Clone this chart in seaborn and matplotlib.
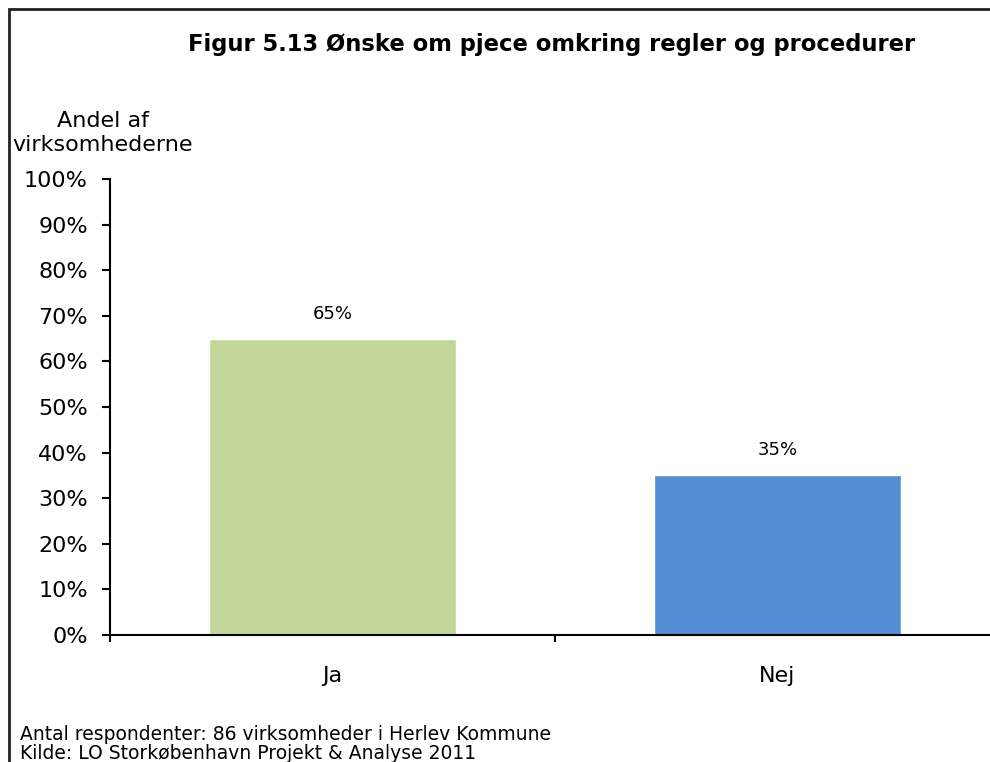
import matplotlib
matplotlib.use("Agg")
import matplotlib.pyplot as plt
import matplotlib.patches as mpatches
import seaborn as sns
import pandas as pd

categories = ["Ja", "Nej"]
shares = [65, 35]
bar_colors = ["#C4D79B", "#558ED5"]
y_ticks = list(range(0, 101, 10))
y_tick_labels = [f"{v}%" for v in y_ticks]

sns.set_theme(style="white")
plt.rcParams["font.family"] = ["DejaVu Sans"]
plt.rcParams["text.color"] = "black"

W, H = 990, 762
fig = plt.figure(figsize=(W / 100, H / 100), dpi=100)
ax = fig.add_axes([110 / W, (H - 635) / H, 890 / W, 456 / H])

df = pd.DataFrame({"kategori": categories, "andel": shares})
sns.barplot(data=df, x="kategori", y="andel", hue="kategori",
            palette=bar_colors, width=0.557, saturation=1,
            legend=False, ax=ax)

ax.set_xlim(-0.5, 1.5)
ax.set_ylim(0, 100)
ax.set_yticks(y_ticks)
ax.set_yticklabels(y_tick_labels, fontsize=16)
ax.set_xticks([-0.5, 0.5, 1.5], minor=False)
ax.set_xticklabels([])
ax.set_xticks([0, 1], minor=True)
ax.set_xticklabels(categories, minor=True, fontsize=16)
ax.tick_params(axis="x", which="major", direction="out", length=5, width=1.5,
               color="black", bottom=True)
ax.tick_params(axis="x", which="minor", length=0, pad=22, labelcolor="black")
ax.tick_params(axis="y", direction="out", length=6, width=1.5, color="black",
               left=True, pad=10, labelcolor="black")
ax.set_xlabel("")
ax.set_ylabel("")

for side in ["top", "right"]:
    ax.spines[side].set_visible(False)
for side in ["left", "bottom"]:
    ax.spines[side].set_color("black")
    ax.spines[side].set_linewidth(1.5)

for i, v in enumerate(shares):
    ax.text(i, v + 3.5, f"{v}%", ha="center", va="bottom", fontsize=13,
            color="black")

fig.text(552 / W, 1 - 45 / H, "Figur 5.13 Ønske om pjece omkring regler og procedurer",
         ha="center", va="center", fontsize=16.3, fontweight="bold")
fig.text(103 / W, 1 - 133 / H, "Andel af\nvirksomhederne", ha="center",
         va="center", fontsize=16, linespacing=1.3)
fig.text(20 / W, 1 - 744 / H,
         "Antal respondenter: 86 virksomheder i Herlev Kommune\n"
         "Kilde: LO Storkøbenhavn Projekt & Analyse 2011",
         ha="left", va="center", fontsize=13.5, linespacing=1.05)

fig.patches.append(mpatches.Rectangle((8.5 / W, -0.1), 1.2, 1 - 8.5 / H + 0.1,
                                      transform=fig.transFigure, fill=False,
                                      edgecolor="#222222", linewidth=2))

fig.savefig("out.png", dpi=100)
